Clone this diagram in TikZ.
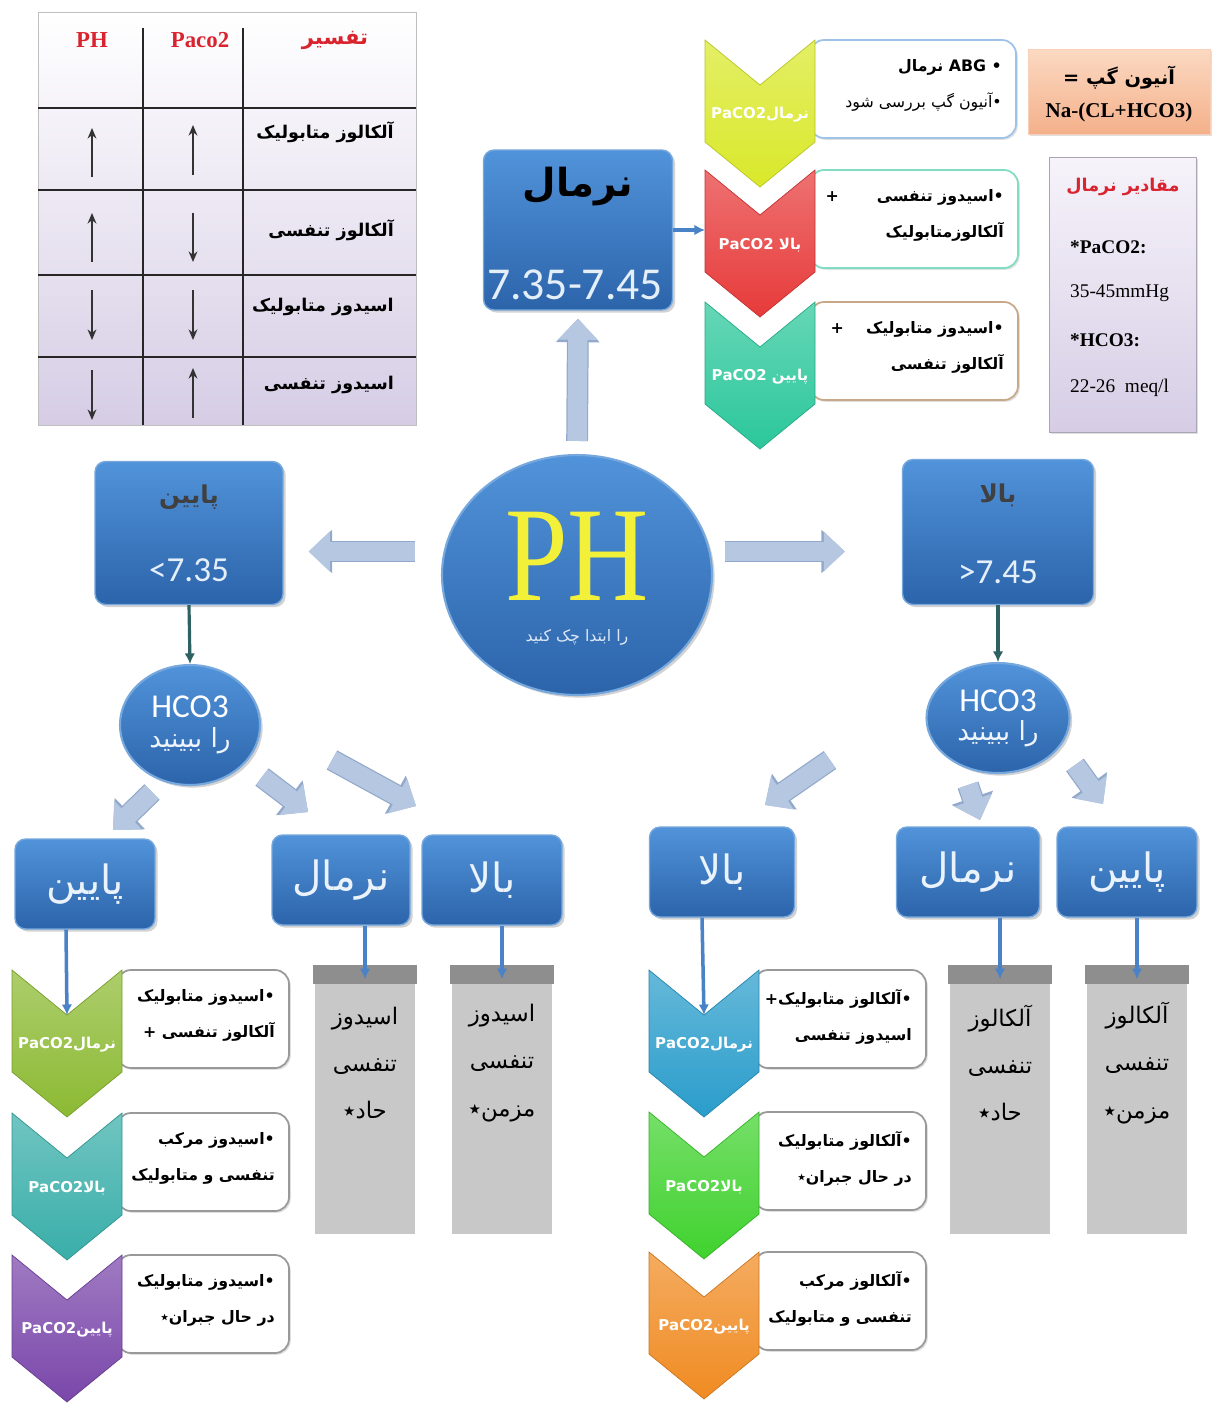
\documentclass[tikz,border=0pt]{standalone}
\usepackage{fontspec}
\setmainfont{Liberation Serif}
\newfontfamily\fafont[Script=Arabic]{DejaVu Sans}
\newfontfamily\carfont{Carlito}
\TeXXeTstate=1
\usetikzlibrary{calc}
\usetikzlibrary{arrows.meta}
\usetikzlibrary{shapes.geometric}
\usetikzlibrary{shadows}
\definecolor{BoxTop}{HTML}{5193DA}
\definecolor{BoxBot}{HTML}{2C64AA}
\definecolor{BoxEdge}{HTML}{76A8DE}
\definecolor{BlockFill}{HTML}{B5C7E1}
\definecolor{BlockEdge}{HTML}{93A9CB}
\definecolor{LineBlue}{HTML}{4A82C8}
\definecolor{DarkTeal}{HTML}{2E6262}
\definecolor{HeadRed}{HTML}{D9232E}
\definecolor{LavTop}{HTML}{F6F3FA}
\definecolor{LavBot}{HTML}{D6CDE5}
\definecolor{PeachTop}{HTML}{FBD9C2}
\definecolor{PeachBot}{HTML}{F4B08A}
\definecolor{GrayBox}{HTML}{C8C8C8}
\definecolor{GrayTop}{HTML}{8E8E8E}
\definecolor{ChYellow}{HTML}{D9E82A}
\definecolor{ChRed}{HTML}{E73A3A}
\definecolor{ChTeal}{HTML}{2BC79B}
\definecolor{ChOlive}{HTML}{8CBA33}
\definecolor{ChCyan}{HTML}{39AEA9}
\definecolor{ChPurple}{HTML}{7A47AA}
\definecolor{ChBlue}{HTML}{2A9DCB}
\definecolor{ChGreen}{HTML}{40D22E}
\definecolor{ChOrange}{HTML}{F08B22}
\definecolor{PHYellow}{HTML}{F3F03A}

\newcommand\rtl[1]{{\fafont\beginR #1\endR}}

\tikzset{
  bluebox/.style={rectangle, rounded corners=6pt, top color=BoxTop, bottom color=BoxBot,
    draw=BoxEdge, line width=0.8pt,
    drop shadow={opacity=0.35, shadow xshift=1.5pt, shadow yshift=-1.5pt}},
  bluedisc/.style={ellipse, top color=BoxTop, bottom color=BoxBot, draw=BoxEdge, line width=1.2pt,
    drop shadow={opacity=0.35, shadow xshift=1.5pt, shadow yshift=-1.5pt}},
  blockarr/.style={preaction={draw=BlockEdge, line width=12.4pt, -{Triangle[length=13.4pt,width=24pt]}},
    draw=BlockFill, line width=11pt, -{Triangle[length=12pt,width=22pt]}},
  bluearr/.style={draw=LineBlue, line width=2pt, -{Latex[length=6pt,width=6pt]}},
  tealarr/.style={draw=DarkTeal, line width=1.8pt, -{Latex[length=6pt,width=6pt]}},
  tablearr/.style={draw=black!80, line width=1.2pt, -{Stealth[length=6pt,width=5pt]}},
  thead/.style={text=HeadRed, font=\bfseries\fontsize{13}{15}\selectfont},
  trow/.style={anchor=east, font=\fafont\bfseries\fontsize{10}{12}\selectfont},
  big/.style={text=white!88!BoxTop, font=\fafont\fontsize{23}{26}\selectfont},
  graybox/.style={rectangle, fill=GrayBox, minimum width=2cm, minimum height=5.38cm, inner sep=0pt},
  graytext/.style={align=center, font=\fafont\fontsize{13}{27}\selectfont},
  chbox/.style={rounded corners=8pt, fill=white, line width=1pt,
    drop shadow={opacity=0.25, shadow xshift=1pt, shadow yshift=-1pt}},
  chtext/.style={anchor=north east, align=right, font=\fafont\bfseries\fontsize{9}{20.5}\selectfont},
  chlab/.style={text=white, font=\fafont\bfseries\fontsize{8.5}{10}\selectfont},
}

\begin{document}
\begin{tikzpicture}[x=0.02cm, y=-0.02cm]
  \useasboundingbox[fill=white] (0,0) rectangle (1213,1411);

  % table
  \path[top color=white, bottom color=LavBot, draw=black!25] (38,12) rectangle (416,425);
  \draw[black!85, line width=0.8pt] (38,108) -- (416,108) (38,190) -- (416,190)
    (38,275) -- (416,275) (38,357) -- (416,357);
  \draw[black!85, line width=0.8pt] (143,28) -- (143,425) (243,28) -- (243,425);
  \node[thead] (hph) at (92,40) {PH};
  \node[thead] (hpc) at (200,40) {Paco2};
  \node[thead, font=\fafont\bfseries\fontsize{12}{14}\selectfont] (htf) at (335,40) {\rtl{تفسیر}};
  \node[trow] (row1) at (400,132) {\rtl{آلکالوز متابولیک}};
  \node[trow] (row2) at (400,230) {\rtl{آلکالوز تنفسی}};
  \node[trow] (row3) at (400,307) {\rtl{اسیدوز متابولیک}};
  \node[trow] (row4) at (400,385) {\rtl{اسیدوز تنفسی}};
  \foreach \ya/\yb/\yc/\yd in {177/128/175/125, 262/213/213/262, 290/340/290/340, 370/420/418/368}{
    \draw[tablearr] (92,\ya) -- (92,\yb);
    \draw[tablearr] (193,\yc) -- (193,\yd);
  }

  % pH and the three ranges
  \node[bluedisc, minimum width=5.4cm, minimum height=4.8cm] (ph) at (577,575) {};
  \node[text=PHYellow, inner sep=0pt, font=\fontsize{64}{70}\selectfont] (pht) at (577,556) {\scalebox{1}[1.2]{PH}};
  \node[text=white!80!BoxTop, font=\fafont\fontsize{9}{11}\selectfont] (phs) at (577,637) {\rtl{را ابتدا چک کنید}};

  \node[bluebox, minimum width=3.78cm, minimum height=3.2cm] (nb) at (578,230) {};
  \node[font=\fafont\bfseries\fontsize{22}{26}\selectfont] (nbt) at (578,187) {\rtl{نرمال}};
  \node[text=white!85!BoxTop, font=\carfont\fontsize{26}{30}\selectfont] (nbn) at (575,285) {7.35-7.45};

  \node[bluebox, minimum width=3.76cm, minimum height=2.86cm] (lo) at (189,533) {};
  \node[text=black!75, font=\fafont\bfseries\fontsize{14}{16}\selectfont] (lot) at (189,497) {\rtl{پایین}};
  \node[text=white!85!BoxTop, font=\carfont\fontsize{20}{24}\selectfont] (lon) at (189,570) {<7.35};

  \node[bluebox, minimum width=3.82cm, minimum height=2.9cm] (hi) at (998,532) {};
  \node[text=black!75, font=\fafont\bfseries\fontsize{14}{16}\selectfont] (hit) at (998,495) {\rtl{بالا}};
  \node[text=white!85!BoxTop, font=\carfont\fontsize{20}{24}\selectfont] (hin) at (998,572) {>7.45};

  \draw[blockarr, shorten <=0.26cm, shorten >=0.16cm] (ph.north) -- (nb.south);
  \draw[blockarr, shorten <=0.58cm, shorten >=0.5cm] (ph.170) -- (lo.east |- ph.170);
  \draw[blockarr, shorten <=0.3cm, shorten >=1.14cm] (ph.10) -- (hi.west |- ph.10);

  % HCO3
  \node[bluedisc, minimum width=2.8cm, minimum height=2.4cm] (hl) at (190,725) {};
  \node[text=white, font=\carfont\fontsize{19}{22}\selectfont] (hlt) at (190,707) {HCO3};
  \node[text=white!90!BoxTop, font=\fafont\fontsize{15}{17}\selectfont] (hls) at (190,741) {\rtl{را ببینید}};
  \node[bluedisc, minimum width=2.86cm, minimum height=2.2cm] (hr) at (998,718) {};
  \node[text=white, font=\carfont\fontsize{19}{22}\selectfont] (hrt) at (998,701) {HCO3};
  \node[text=white!90!BoxTop, font=\fafont\fontsize{15}{17}\selectfont] (hrs) at (998,734) {\rtl{را ببینید}};
  \draw[tealarr] (lo.south) -- (hl.north);
  \draw[tealarr] (hi.south) -- (hr.north);

  \foreach \nm/\cx/\cy/\bwd/\tx in {l1/85/884/2.8/پایین, l2/341/880/2.76/نرمال, l3/492/880/2.8/بالا,
    r1/722/872/2.9/بالا, r2/968/872/2.86/نرمال, r3/1127/872/2.8/پایین}
    \node[bluebox, big, minimum width=\bwd cm, minimum height=1.8cm] (\nm) at (\cx,\cy) {\rtl{\tx}};

  \coordinate (a1s) at (152,792); \coordinate (a1e) at (113,830);
  \coordinate (a2s) at (262,777); \coordinate (a2e) at (308,812);
  \coordinate (a3s) at (332,760); \coordinate (a3e) at (416,806);
  \coordinate (b1s) at (830,760); \coordinate (b1e) at (765,805);
  \coordinate (b2s) at (968,785); \coordinate (b2e) at (980,820);
  \coordinate (b3s) at (1075,765); \coordinate (b3e) at (1103,804);
  \foreach \s/\e in {a1s/a1e, a2s/a2e, a3s/a3e, b1s/b1e, b2s/b2e, b3s/b3e}
    \draw[blockarr] (\s) -- (\e);

  % gray result columns
  \foreach \nm/\cx/\ta/\tc in {g1/365/اسیدوز/حاد٭, g2/502/اسیدوز/مزمن٭, g3/1000/آلکالوز/حاد٭, g4/1137/آلکالوز/مزمن٭}{
    \node[graybox] (\nm) at (\cx,1100) {};
    \fill[GrayTop] ($(\nm.north west)+(-2,0)$) rectangle ($(\nm.north east)+(2,19)$);
    \node[graytext] (\nm txt) at (\cx,1063) {\rtl{\ta}\\\rtl{تنفسی}\\\rtl{\tc}};
  }

  % chevrons with their notes
  \foreach \nm/\cx/\cy/\col/\bw/\bd/\lab/\ta/\tb in {
    ky/760/40/ChYellow/206/BoxEdge!70/{\rtl{نرمال\beginL PaCO2\endL}}/{\rtl{• \beginL ABG\endL{} نرمال}}/{\rtl{\mdseries •آنیون گپ بررسی شود}},
    kr/760/170/ChRed/208/ChTeal!60/{\rtl{بالا \beginL PaCO2\endL}}/{\rtl{•اسیدوز تنفسی\hspace{2.4em}+}}/{\rtl{آلکالوزمتابولیک}},
    kt/760/302/ChTeal/208/ChOrange!60!black!50/{\rtl{پایین \beginL PaCO2\endL}}/{\rtl{•اسیدوز متابولیک\hspace{1.4em}+}}/{\rtl{آلکالوز تنفسی}},
    ko/67/970/ChOlive/172/black!40/{\rtl{نرمال\beginL PaCO2\endL}}/{\rtl{•اسیدوز متابولیک}}/{\rtl{آلکالوز تنفسی +}},
    kc/67/1113/ChCyan/172/black!40/{\rtl{بالا\beginL PaCO2\endL}}/{\rtl{•اسیدوز مرکب}}/{\rtl{تنفسی و متابولیک}},
    kp/67/1255/ChPurple/172/black!40/{\rtl{پایین\beginL PaCO2\endL}}/{\rtl{•اسیدوز متابولیک}}/{\rtl{در حال جبران٭}},
    kb/704/970/ChBlue/172/black!40/{\rtl{نرمال\beginL PaCO2\endL}}/{\rtl{•آلکالوز متابولیک+}}/{\rtl{اسیدوز تنفسی}},
    kg/704/1112/ChGreen/172/black!40/{\rtl{بالا\beginL PaCO2\endL}}/{\rtl{•آلکالوز متابولیک}}/{\rtl{در حال جبران٭}},
    ka/704/1252/ChOrange/172/black!40/{\rtl{پایین\beginL PaCO2\endL}}/{\rtl{•آلکالوز مرکب}}/{\rtl{تنفسی و متابولیک}}}{
    \draw[chbox, draw=\bd] ({\cx+50},\cy) rectangle ({\cx+50+\bw},{\cy+98});
    \shade[top color=\col!72!white, bottom color=\col, draw=\col!85!black, line width=0.4pt]
      ({\cx-55},\cy) -- (\cx,{\cy+45}) -- ({\cx+55},\cy) -- ({\cx+55},{\cy+102})
      -- (\cx,{\cy+147}) -- ({\cx-55},{\cy+102}) -- cycle;
    \coordinate (\nm) at (\cx,{\cy+45});
    \node[chlab] (\nm lab) at (\cx,{\cy+75}) {\lab};
    \node[chtext] (\nm txt) at ({\cx+42+\bw},{\cy+13}) {\ta\\\tb};
  }

  \draw[bluearr] (nb.east) -- ($(kr)+(-55,15)$);
  \draw[bluearr] ($(l1.south)+(-19,0)$) -- (ko);
  \draw[bluearr] (l2.south -| g1) -- ($(g1.north)+(0,14)$);
  \draw[bluearr] (l3.south -| g2) -- ($(g2.north)+(0,14)$);
  \draw[bluearr] ($(r1.south)+(-20,0)$) -- (kb);
  \draw[bluearr] (r2.south -| g3) -- ($(g3.north)+(0,14)$);
  \draw[bluearr] (r3.south -| g4) -- ($(g4.north)+(0,14)$);

  % reference values
  \node[draw=PeachBot!60, top color=PeachTop, bottom color=PeachBot, minimum width=3.64cm, minimum height=1.7cm,
    drop shadow={opacity=0.25, shadow xshift=1pt, shadow yshift=-1pt}] (ag) at (1119,92) {};
  \node[text=HeadRed, font=\fafont\bfseries\fontsize{11}{13}\selectfont] (agt) at (1119,78) {\rtl{آنیون گپ \textcolor{black}{=}}};
  \node[font=\bfseries\fontsize{12}{14}\selectfont] (agf) at (1119,112) {Na-(CL+HCO3)};
  \node[draw=LavBot!80!black, top color=LavTop, bottom color=LavBot, minimum width=2.94cm, minimum height=5.5cm,
    drop shadow={opacity=0.25, shadow xshift=1pt, shadow yshift=-1pt}] (nv) at (1123,295) {};
  \node[text=HeadRed, font=\fafont\bfseries\fontsize{10}{12}\selectfont] (nvt) at (1123,187) {\rtl{مقادیر نرمال}};
  \node[anchor=west, font=\bfseries\fontsize{11}{13}\selectfont] (nv1) at (1064,247) {*PaCO2:};
  \node[anchor=west, font=\fontsize{11}{13}\selectfont] (nv2) at (1064,293) {35-45mmHg};
  \node[anchor=west, font=\bfseries\fontsize{11}{13}\selectfont] (nv3) at (1064,340) {*HCO3:};
  \node[anchor=west, font=\fontsize{11}{13}\selectfont] (nv4) at (1064,388) {22-26\ \ meq/l};
\end{tikzpicture}
\end{document}
